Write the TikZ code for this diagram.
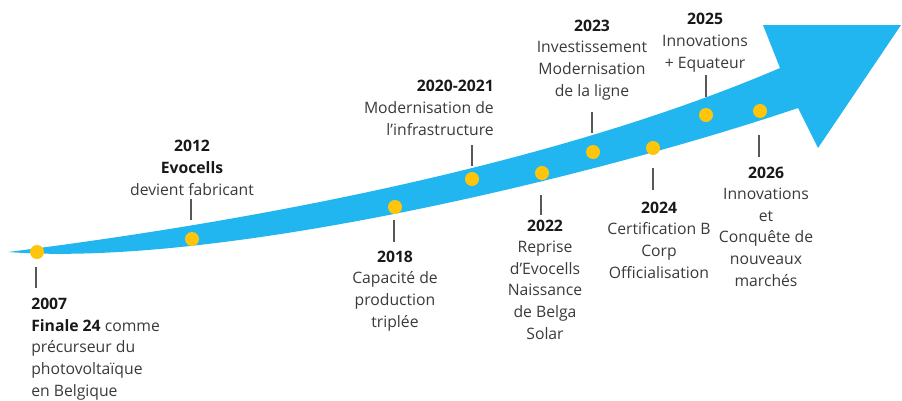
\documentclass[tikz,border=0pt]{standalone}
\usepackage{fontspec}
\setmainfont{Open Sans}
\definecolor{arrowblue}{HTML}{22B6F0}
\definecolor{dotyellow}{HTML}{FFC40C}
\definecolor{txtgray}{HTML}{3A3A3A}
\newcommand{\yearlbl}[1]{{\bfseries\color{black!90}#1}}
\begin{document}
\begin{tikzpicture}[x=0.75pt,y=-0.75pt,
  yeardot/.style={circle, fill=dotyellow, inner sep=0pt, minimum size=10.5pt},
  tickline/.style={draw=txtgray!85, line width=0.8pt},
  lbl/.style={font=\fontsize{11.8}{16.2}\selectfont, text=txtgray, align=center, inner sep=0pt}]
\useasboundingbox (0,0) rectangle (902,400);
% arrow band
\fill[arrowblue] (8,252) .. controls (200,228) and (530,175) .. (780,68)
  -- (763,25) -- (901,25) -- (818,148) -- (798,108)
  .. controls (600,175) and (220,268) .. (8,252) -- cycle;
% dots
\node[yeardot] (d2007) at (37,252) {};
\node[yeardot] (d2012) at (192,239) {};
\node[yeardot] (d2018) at (395,207) {};
\node[yeardot] (d2020) at (472,179) {};
\node[yeardot] (d2022) at (542,173) {};
\node[yeardot] (d2023) at (593,152) {};
\node[yeardot] (d2024) at (653,148) {};
\node[yeardot] (d2025) at (706,115) {};
\node[yeardot] (d2026) at (760,111) {};
% tick ends
\coordinate (a2007) at (36,267); \coordinate (b2007) at (36,288);
\coordinate (a2012) at (191,199); \coordinate (b2012) at (191,220);
\coordinate (a2018) at (394,220); \coordinate (b2018) at (394,242);
\coordinate (a2020) at (472,145); \coordinate (b2020) at (472,166);
\coordinate (a2022) at (541,195); \coordinate (b2022) at (541,215);
\coordinate (a2023) at (592,112); \coordinate (b2023) at (592,133);
\coordinate (a2024) at (653,168); \coordinate (b2024) at (653,190);
\coordinate (a2025) at (706,75); \coordinate (b2025) at (706,97);
\coordinate (a2026) at (759,135); \coordinate (b2026) at (759,157);
\foreach \y in {2007,2012,2018,2020,2022,2023,2024,2025,2026}
  \draw[tickline] (a\y) -- (b\y);
% labels (anchor base = baseline of the last line)
\node[lbl, align=left, anchor=base west] (t2007) at (31,396)
  {\yearlbl{2007}\\\yearlbl{Finale 24} comme\\précurseur du\\photovoltaïque\\en Belgique};
\node[lbl, anchor=base] (t2012) at (192,195)
  {\yearlbl{2012}\\\yearlbl{Evocells}\\devient fabricant};
\node[lbl, anchor=base] (t2018) at (395,327)
  {\yearlbl{2018}\\Capacité de\\production\\triplée};
\node[lbl, align=right, anchor=base east] (t2020) at (494,135)
  {\yearlbl{2020-2021}\\Modernisation de\\l'infrastructure};
\node[lbl, anchor=base] (t2022) at (545,339)
  {\yearlbl{2022}\\Reprise\\d'Evocells\\Naissance\\de Belga\\Solar};
\node[lbl, anchor=base] (t2023) at (592,96)
  {\yearlbl{2023}\\Investissement\\Modernisation\\de la ligne};
\node[lbl, anchor=base] (t2024) at (659,278)
  {\yearlbl{2024}\\Certification B\\Corp\\Officialisation};
\node[lbl, anchor=base] (t2025) at (705,68)
  {\yearlbl{2025}\\Innovations\\+ Equateur};
\node[lbl, anchor=base] (t2026) at (766,286)
  {\yearlbl{2026}\\Innovations\\et\\Conquête de\\nouveaux\\marchés};
\end{tikzpicture}
\end{document}
